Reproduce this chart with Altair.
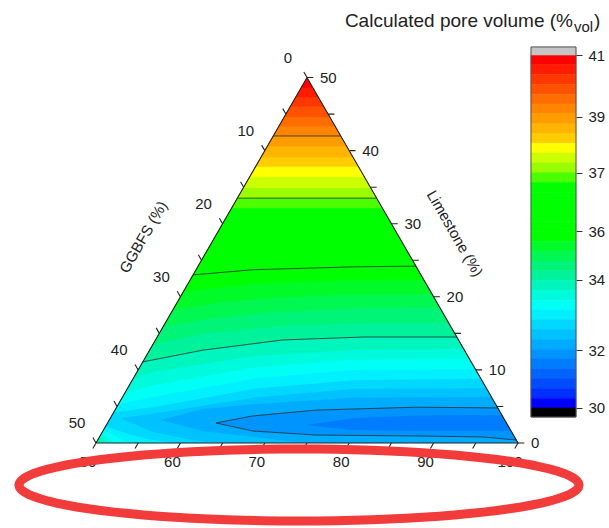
import math
import altair as alt

H = math.sqrt(3) / 2

# ---------------- values ----------------
# colour of each band of the colour scale, from the top (highest) down
band_colors = [
    "#ff0000", "#ff1c00", "#ff3800", "#ff5200", "#ff6c00", "#ff8400",
    "#ff9c00", "#ffb400", "#ffcc00", "#ffff00", "#ccff00", "#99ff00",
    "#4cff00", "#00ff00", "#00ff00", "#00ff00", "#00ff00", "#00ff00",
    "#00ff00", "#00fc28", "#00f850", "#00f478", "#00f29a", "#00f6bc",
    "#00fadc", "#00fff4", "#00f0ff", "#00d8ff", "#00c2ff", "#00acff",
    "#0094ff", "#007cff", "#0064ff", "#004cff", "#0030ff", "#0000ff",
]
over_color = "#c4c4c4"
under_color = "#000000"

# colour-bar labels and their place on the bar (in bands counted from the bottom)
cbar_label_text = ["30", "32", "34", "36", "37", "39", "41"]
cbar_label_pos = [0.0, 5.9, 13.1, 18.0, 24.0, 29.7, 36.0]

# nearly flat band boundaries in the upper part: band index -> Limestone (%)
flat_band = [1, 2, 3, 4, 5, 6, 7, 8, 9, 10, 11, 12, 13]
flat_limestone = [48.6, 47.3, 46.0, 44.6, 43.3, 42.0, 40.6, 39.1, 37.8, 36.4, 34.9, 33.5, 32.1]

# curved band boundaries, points as (GGBFS %, Limestone %)
curve_upper = {
    18: [(27.0, 23.0), (19.6, 23.7), (13.5, 23.9), (7.5, 24.1), (0.0, 24.2)],
    19: [(29.3, 20.7), (20.0, 21.8), (10.0, 22.2), (0.0, 22.3)],
    20: [(31.8, 18.2), (26.0, 19.2), (20.0, 19.8), (10.0, 20.3), (0.0, 20.4)],
    21: [(34.1, 15.9), (28.0, 17.0), (20.0, 17.9), (10.0, 18.4), (0.0, 18.5)],
    22: [(36.6, 13.4), (30.0, 14.9), (20.0, 16.0), (10.0, 16.4), (0.0, 16.4)],
    23: [(38.9, 11.1), (31.0, 12.7), (20.8, 14.1), (11.1, 14.5), (0.0, 14.5)],
    24: [(41.1, 8.9), (38.4, 9.7), (25.4, 11.9), (13.2, 12.7), (0.0, 12.9)],
    25: [(43.2, 6.8), (39.3, 7.9), (26.3, 10.3), (13.9, 11.4), (0.0, 11.5)],
    26: [(44.7, 5.3), (40.1, 6.3), (27.0, 8.8), (14.6, 10.0), (0.0, 10.1)],
    27: [(45.8, 4.2), (40.8, 4.9), (27.7, 7.4), (15.2, 8.6), (0.0, 8.8)],
    28: [(45.4, 3.4), (41.3, 4.0), (28.3, 6.2), (15.9, 7.4), (0.0, 7.5)],
    29: [(40.8, 3.15), (35.0, 4.65), (28.7, 5.3), (16.5, 6.2), (0.0, 6.3)],
    30: [(34.4, 2.74), (29.6, 3.7), (21.7, 4.5), (9.6, 4.9), (0.0, 4.8)],
    31: [(23.9, 2.46), (17.8, 3.4), (9.3, 3.8), (0.0, 3.8)],
}
curve_lower = {
    23: [(49.6, 0.4), (49.4, 0.0)],
    24: [(49.2, 0.8), (48.7, 0.0)],
    25: [(48.8, 1.2), (48.2, 0.5), (47.7, 0.0)],
    26: [(48.2, 1.8), (46.6, 0.4), (45.6, 0.0)],
    27: [(47.7, 2.3), (45.5, 1.2), (43.5, 0.5), (40.9, 0.0)],
    28: [(45.4, 3.4), (42.5, 1.5), (38.3, 0.4), (35.5, 0.0)],
    29: [(40.8, 3.15), (36.5, 1.64), (29.9, 0.68), (25.5, 0.0)],
    30: [(34.4, 2.74), (30.6, 1.64), (23.4, 1.09), (11.6, 0.96), (3.7, 0.82), (0.0, 0.41)],
    31: [(23.9, 2.46), (18.7, 1.78), (10.4, 1.64), (0.0, 1.64)],
}
filled_curve_bands = [19, 20, 21, 22, 23, 24, 25, 26, 27, 28, 29, 30, 31]
contour_flat_bands = [6, 12]
contour_curve_bands = [18, 23, 30]

tick_steps = [0, 5, 10, 15, 20, 25, 30, 35, 40, 45, 50]
label_steps = [0, 10, 20, 30, 40, 50]
font = "Liberation Sans"
ink = "#222222"


# ---------------- ternary projection helpers ----------------
def xy(g, l):
    """(GGBFS %, Limestone %) -> planar coordinates; cement = 100 - g - l."""
    return [100.0 - g - l / 2.0, l * H]


def feature(kind, coords, **props):
    return {"type": "Feature", "properties": props,
            "geometry": {"type": kind, "coordinates": coords}}


# filled regions, painted from the top band downwards
regions = [feature("Polygon", [[xy(50, 0), xy(0, 0), xy(0, 50), xy(50, 0)]], color=band_colors[0])]
bounds = [(b, [(50 - L, L), (0.0, L)], None) for b, L in zip(flat_band, flat_limestone)]
bounds += [(b, curve_upper[b], curve_lower.get(b)) for b in filled_curve_bands]
for b, up, lo in bounds:
    lo = lo if lo else [(50.0, 0.0)]
    ring = list(up)
    if lo[-1][1] == 0:
        ring.append((0.0, 0.0))
    ring += list(reversed(lo))
    ring.append(ring[0])
    regions.append(feature("Polygon", [[xy(g, l) for g, l in ring]], color=band_colors[b]))

# contour lines
contours = []
for b in contour_flat_bands:
    L = flat_limestone[flat_band.index(b)]
    contours.append(feature("LineString", [xy(50 - L, L), xy(0, L)]))
for b in contour_curve_bands:
    pts = list(curve_upper[b])
    if b in curve_lower and curve_lower[b][-1][1] > 0:
        pts = list(reversed(curve_lower[b])) + pts[1:]
    contours.append(feature("LineString", [xy(g, l) for g, l in pts]))

# frame and ticks
frame = [feature("LineString", [xy(50, 0), xy(0, 0), xy(0, 50), xy(50, 0)])]
tl = 0.75
ticks = []
for v in tick_steps:
    x0, y0 = xy(v, 50 - v)                      # GGBFS axis (left edge)
    ticks.append([[x0, y0], [x0 - 0.5 * tl, y0 + H * tl]])
    x0, y0 = xy(0, v)                           # Limestone axis (right edge)
    ticks.append([[x0, y0], [x0 + tl, y0]])
    x0, y0 = xy(50 - v, 0)                      # bottom axis
    ticks.append([[x0, y0], [x0 - 0.5 * tl, y0 - H * tl]])
frame.append(feature("MultiLineString", ticks))

left_lab = [dict(zip(["X", "Y"], xy(v, 50 - v)), t=str(v)) for v in label_steps]
right_lab = [dict(zip(["X", "Y"], xy(0, v)), t=str(v)) for v in label_steps]
bottom_lab = [dict(zip(["X", "Y"], xy(50 - v, 0)), t=str(50 + v)) for v in label_steps]
left_title = [dict(zip(["X", "Y"], xy(25, 25)), t="GGBFS (%)")]
right_title = [dict(zip(["X", "Y"], xy(0, 25)), t="Limestone (%)")]

# the picture is cut just below the bottom tick labels; a red ellipse is drawn there
S = 8.44
proj = dict(type="identity", reflectY=True, scale=S, translate=[93 - 50 * S, 443])
crop_mask = [feature("Polygon", [[[39.2, -2.9], [110.0, -2.9], [110.0, -10.0], [39.2, -10.0], [39.2, -2.9]]])]
ell_ratio = 36.0 / 280.0
ell_path = "M" + "L".join(
    f"{math.cos(2 * math.pi * k / 96):.4f},{ell_ratio * math.sin(2 * math.pi * k / 96):.4f}"
    for k in range(96)) + "Z"
ellipse_center = [{"X": 74.05, "Y": -4.98}]


def lonlat():
    return dict(longitude="X:Q", latitude="Y:Q", text="t:N")


fills = alt.Chart(alt.Data(values=regions)).mark_geoshape(strokeWidth=0).encode(
    fill=alt.Fill("properties.color:N", scale=None))
lines = alt.Chart(alt.Data(values=contours)).mark_geoshape(
    filled=False, stroke="#2b2b2b", strokeWidth=0.9, strokeOpacity=0.9)
frame_l = alt.Chart(alt.Data(values=frame)).mark_geoshape(
    filled=False, stroke=ink, strokeWidth=1.1, clip=False)
txt = dict(font=font, fontSize=15, color=ink, clip=False)
lab_l = alt.Chart(alt.Data(values=left_lab)).mark_text(dx=-19, dy=-20, **txt).encode(**lonlat())
lab_r = alt.Chart(alt.Data(values=right_lab)).mark_text(align="left", dx=13, dy=0, **txt).encode(**lonlat())
lab_b = alt.Chart(alt.Data(values=bottom_lab)).mark_text(dx=-8, dy=19, **txt).encode(**lonlat())
tit_l = alt.Chart(alt.Data(values=left_title)).mark_text(angle=300, dx=-9, dy=-62, **txt).encode(**lonlat())
tit_r = alt.Chart(alt.Data(values=right_title)).mark_text(angle=60, dx=-2, dy=-50, **txt).encode(**lonlat())
mask = alt.Chart(alt.Data(values=crop_mask)).mark_geoshape(
    fill="white", strokeWidth=0, clip=False)
ell = alt.Chart(alt.Data(values=ellipse_center)).mark_point(
    shape=ell_path, size=560 ** 2, filled=False, stroke="#f23b3b", strokeWidth=9,
    opacity=1, clip=False).encode(longitude="X:Q", latitude="Y:Q")

ternary = alt.layer(fills, lines, frame_l, lab_l, lab_r, lab_b, tit_l, tit_r, mask, ell).project(
    **proj).properties(width=518, height=528)

# ---------------- colour bar ----------------
cbar_rows = [{"u0": 35 - j, "u1": 36 - j, "c": c} for j, c in enumerate(band_colors)]
cbar_rows.append({"u0": 36.0, "u1": 36.82, "c": over_color})
cbar_rows.append({"u0": -0.92, "u1": 0.0, "c": under_color})
label_expr = " : ".join(
    f"datum.value == {p} ? '{t}'" for p, t in zip(cbar_label_pos, cbar_label_text)) + " : ''"
yscale = alt.Scale(domain=[-12.24, 41.61], nice=False, zero=False)
yaxis = alt.Axis(orient="right", values=cbar_label_pos, labelExpr=label_expr, tickSize=6,
                 tickColor="#333333", domain=False, grid=False, title="", labelFont=font,
                 labelFontSize=15, labelColor=ink, labelPadding=6)

bars = alt.Chart(alt.Data(values=cbar_rows)).mark_rect(strokeWidth=0.6).encode(
    y=alt.Y("u0:Q", scale=yscale, axis=yaxis),
    y2="u1:Q", x=alt.value(0), x2=alt.value(45),
    fill=alt.Fill("c:N", scale=None), stroke=alt.Stroke("c:N", scale=None))
outline = alt.Chart(alt.Data(values=[{"u0": -0.92, "u1": 36.82}])).mark_rect(
    filled=False, stroke="#555555", strokeWidth=1).encode(
    y=alt.Y("u0:Q", scale=yscale, axis=yaxis), y2="u1:Q", x=alt.value(0), x2=alt.value(45))

title_rows = [{"t": "Calculated pore volume (%"}]
sub_rows = [{"t": "vol"}]
close_rows = [{"t": ")"}]
t_main = alt.Chart(alt.Data(values=title_rows)).mark_text(
    align="right", baseline="alphabetic", font=font, fontSize=19, color=ink).encode(
    text="t:N", x=alt.value(42), y=alt.value(27))
t_sub = alt.Chart(alt.Data(values=sub_rows)).mark_text(
    align="left", baseline="alphabetic", font=font, fontSize=15, color=ink).encode(
    text="t:N", x=alt.value(43), y=alt.value(32))
t_close = alt.Chart(alt.Data(values=close_rows)).mark_text(
    align="left", baseline="alphabetic", font=font, fontSize=19, color=ink).encode(
    text="t:N", x=alt.value(63), y=alt.value(27))

cbar = alt.layer(bars, outline, t_main, t_sub, t_close).properties(width=45, height=528)

chart = alt.hconcat(ternary, cbar, spacing=10, bounds="flush").configure_view(
    strokeWidth=0).properties(padding=0)

chart.save("out.html", embed_options={"renderer": "svg", "actions": False})
